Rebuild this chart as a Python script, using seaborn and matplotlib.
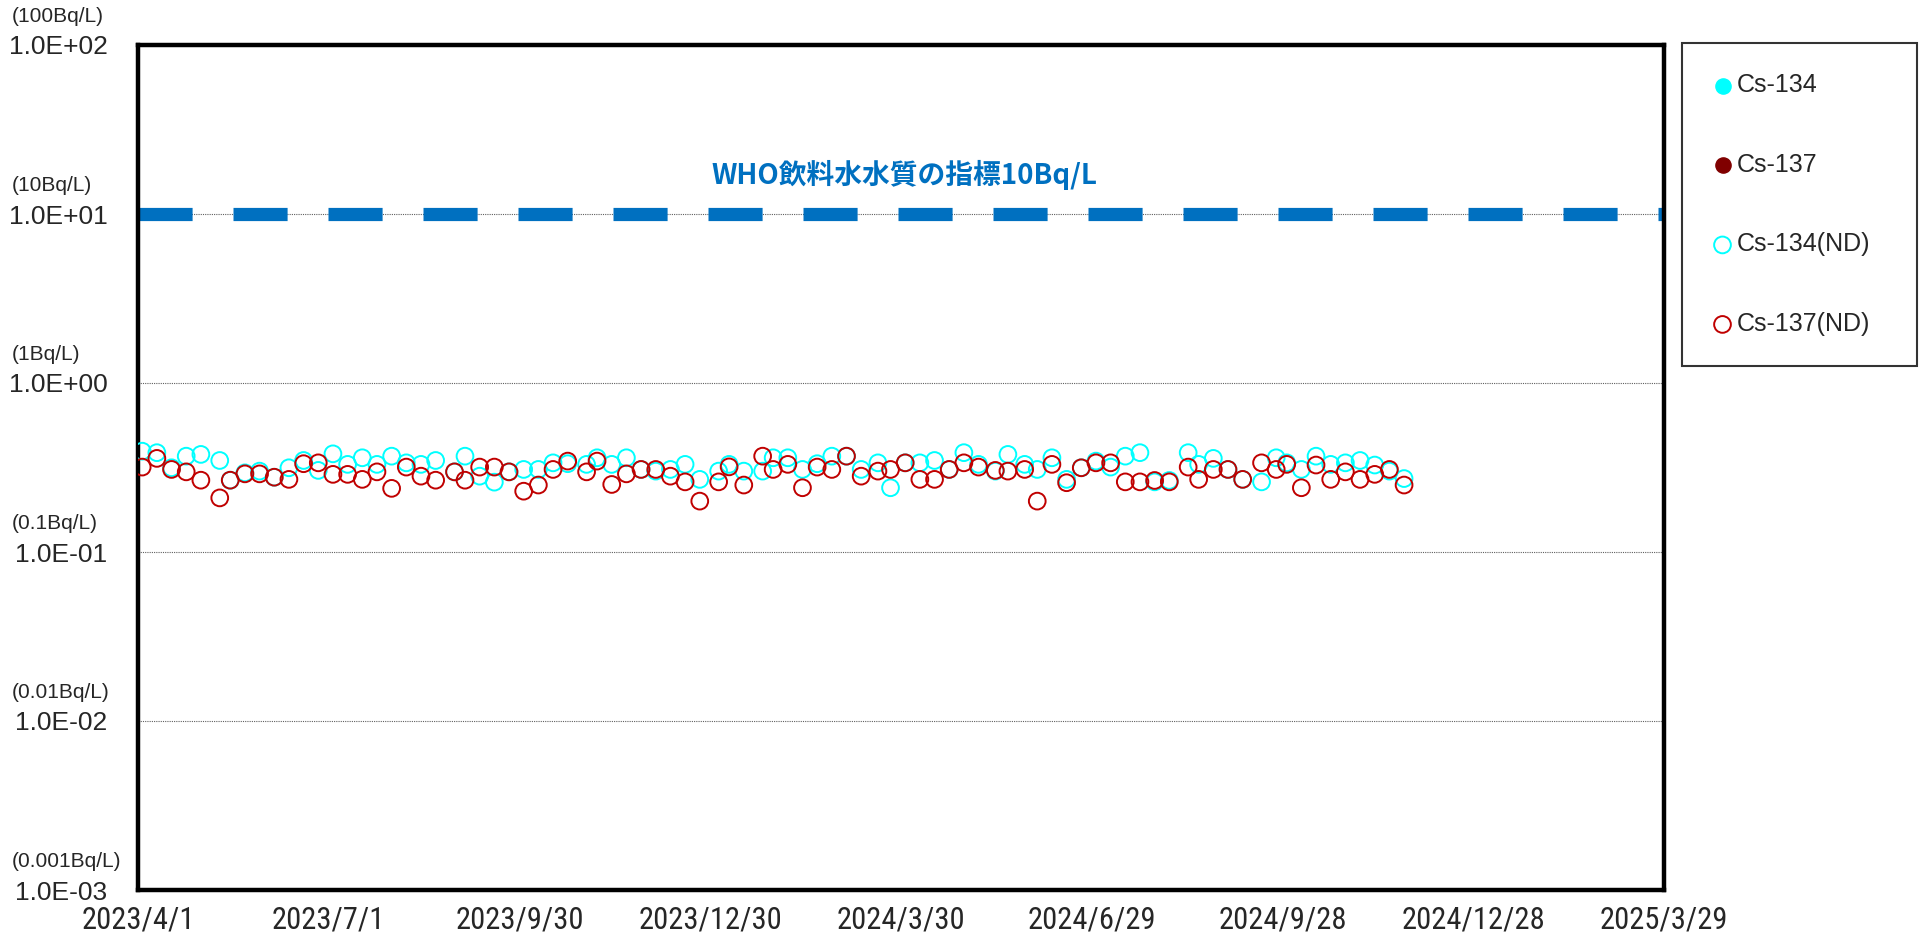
import pandas as pd
import matplotlib
matplotlib.use('Agg')
import matplotlib.pyplot as plt
import matplotlib.dates as mdates
import matplotlib.transforms as mtransforms
from matplotlib.ticker import FixedLocator, FuncFormatter, NullLocator
import seaborn as sns

# sampling dates (weekly)
dates = [
    '2023-04-03', '2023-04-10', '2023-04-17', '2023-04-24', '2023-05-01', '2023-05-10',
    '2023-05-15', '2023-05-22', '2023-05-29', '2023-06-05', '2023-06-12', '2023-06-19',
    '2023-06-26', '2023-07-03', '2023-07-10', '2023-07-17', '2023-07-24', '2023-07-31',
    '2023-08-07', '2023-08-14', '2023-08-21', '2023-08-30', '2023-09-04', '2023-09-11',
    '2023-09-18', '2023-09-25', '2023-10-02', '2023-10-09', '2023-10-16', '2023-10-23',
    '2023-11-01', '2023-11-06', '2023-11-13', '2023-11-20', '2023-11-27', '2023-12-04',
    '2023-12-11', '2023-12-18', '2023-12-25', '2024-01-03', '2024-01-08', '2024-01-15',
    '2024-01-24', '2024-01-29', '2024-02-05', '2024-02-12', '2024-02-19', '2024-02-26',
    '2024-03-04', '2024-03-11', '2024-03-19', '2024-03-25', '2024-04-01', '2024-04-08',
    '2024-04-15', '2024-04-22', '2024-04-29', '2024-05-06', '2024-05-14', '2024-05-20',
    '2024-05-28', '2024-06-03', '2024-06-10', '2024-06-17', '2024-06-24', '2024-07-01',
    '2024-07-08', '2024-07-15', '2024-07-22', '2024-07-29', '2024-08-05', '2024-08-14',
    '2024-08-19', '2024-08-26', '2024-09-02', '2024-09-09', '2024-09-18', '2024-09-25',
    '2024-09-30', '2024-10-07', '2024-10-14', '2024-10-21', '2024-10-28', '2024-11-04',
    '2024-11-11', '2024-11-18', '2024-11-25',
]

# detection limits (Bq/L), not detected
cs134_nd = [
    0.395, 0.387, 0.315, 0.369, 0.378, 0.348, 0.266, 0.294, 0.301, 0.277, 0.315, 0.348,
    0.304, 0.381, 0.330, 0.361, 0.330, 0.369, 0.337, 0.330, 0.348, 0.298, 0.369, 0.281,
    0.259, 0.298, 0.308, 0.308, 0.337, 0.333, 0.330, 0.361, 0.330, 0.361, 0.308, 0.301,
    0.308, 0.330, 0.269, 0.301, 0.330, 0.301, 0.301, 0.361, 0.361, 0.308, 0.333, 0.369,
    0.369, 0.308, 0.337, 0.240, 0.337, 0.337, 0.348, 0.308, 0.387, 0.330, 0.301, 0.378,
    0.330, 0.308, 0.361, 0.269, 0.315, 0.345, 0.318, 0.369, 0.387, 0.260, 0.265, 0.387,
    0.330, 0.358, 0.308, 0.269, 0.260, 0.361, 0.337, 0.308, 0.369, 0.330, 0.337, 0.348,
    0.327, 0.301, 0.272,
]
cs137_nd = [
    0.318, 0.358, 0.308, 0.298, 0.266, 0.209, 0.266, 0.290, 0.290, 0.277, 0.269, 0.333,
    0.337, 0.288, 0.288, 0.269, 0.298, 0.238, 0.318, 0.281, 0.266, 0.298, 0.266, 0.318,
    0.318, 0.298, 0.229, 0.249, 0.308, 0.345, 0.298, 0.345, 0.251, 0.290, 0.308, 0.308,
    0.281, 0.260, 0.200, 0.260, 0.319, 0.249, 0.369, 0.308, 0.330, 0.240, 0.318, 0.308,
    0.369, 0.281, 0.301, 0.308, 0.337, 0.269, 0.269, 0.308, 0.337, 0.318, 0.304, 0.301,
    0.308, 0.200, 0.330, 0.257, 0.315, 0.337, 0.337, 0.260, 0.260, 0.265, 0.260, 0.318,
    0.269, 0.308, 0.308, 0.269, 0.337, 0.308, 0.330, 0.240, 0.327, 0.269, 0.298, 0.269,
    0.288, 0.308, 0.249,
]

# detected values: none in this period
cs134_dates, cs134_vals = [], []
cs137_dates, cs137_vals = [], []

who_guideline = 10.0
who_label = 'WHO飲料水水質の指標10Bq/L'

y_ticks = [1e-3, 1e-2, 1e-1, 1e0, 1e1, 1e2]
unit_labels = ['(0.001Bq/L)', '(0.01Bq/L)', '(0.1Bq/L)', '(1Bq/L)', '(10Bq/L)', '(100Bq/L)']

x_start, x_end = '2023-04-01', '2025-03-29'

df = pd.DataFrame({'date': pd.to_datetime(dates), 'cs134': cs134_nd, 'cs137': cs137_nd})

sns.set_style('white')
plt.rcParams['font.family'] = ['Liberation Sans', 'DejaVu Sans']

fig = plt.figure(figsize=(19.19, 9.38), dpi=100)
ax = fig.add_axes([138 / 1919, 1 - 890 / 938, (1664 - 138) / 1919, (890 - 45) / 938])

cyan = '#00FFFF'
red = '#C00000'
maroon = '#800000'

ax.scatter(pd.to_datetime(cs134_dates), cs134_vals, s=120, color=cyan, label='Cs-134')
ax.scatter(pd.to_datetime(cs137_dates), cs137_vals, s=120, color=maroon, label='Cs-137')
sns.scatterplot(data=df, x='date', y='cs134', ax=ax, s=145, marker='o',
                facecolors='none', edgecolor=cyan, linewidth=1.4, label='Cs-134(ND)', zorder=3)
sns.scatterplot(data=df, x='date', y='cs137', ax=ax, s=145, marker='o',
                facecolors='none', edgecolor=red, linewidth=1.4, label='Cs-137(ND)', zorder=4)

ax.set_yscale('log')
ax.set_ylim(1e-3, 1e2)
ax.yaxis.set_major_locator(FixedLocator(y_ticks))
ax.yaxis.set_minor_locator(NullLocator())
ax.yaxis.set_major_formatter(FuncFormatter(lambda v, p: '%.1E' % v))
ax.grid(axis='y', which='major', color='#606060', linestyle=(0, (1, 1)), linewidth=0.8)

# WHO guideline line
ax.axhline(who_guideline, color='#0070C0', linewidth=9.5, linestyle=(0, (4.1, 3.1)),
           dash_capstyle='butt', zorder=2)
ax.text(0.502, 0.846, who_label, transform=ax.transAxes, ha='center', va='center',
        color='#0070C0', fontsize=20, fontweight='bold',
        family=['Noto Sans CJK JP', 'DejaVu Sans'])

x0, x1 = pd.Timestamp(x_start), pd.Timestamp(x_end)
ax.set_xlim(x0, x1)
ax.set_xticks(pd.date_range(x0, x1, freq='91D'))
ax.xaxis.set_major_formatter(FuncFormatter(
    lambda v, p: '{d.year}/{d.month}/{d.day}'.format(d=mdates.num2date(v))))
ax.tick_params(axis='x', direction='in', length=8, width=0.8, pad=11, labelsize=22)
ax.tick_params(axis='y', length=0, pad=22, labelsize=19)
for lab in ax.get_xticklabels():
    lab.set_family(['Liberation Sans Narrow', 'Roboto Condensed', 'DejaVu Sans'])
    lab.set_fontstretch('condensed')
ax.set_xlabel('')
ax.set_ylabel('')

for side in ax.spines.values():
    side.set_linewidth(3.2)
    side.set_color('black')

# unit labels above each tick label
trans = mtransforms.blended_transform_factory(fig.transFigure, ax.transData)
for v, u in zip(y_ticks, unit_labels):
    ax.text(12 / 1919, v * 1.47, u, transform=trans, ha='left', va='center',
            fontsize=15, clip_on=False)

handles, labels = ax.get_legend_handles_labels()
if ax.get_legend() is not None:
    ax.get_legend().remove()
leg = fig.legend(handles, labels, loc='upper left',
                 bbox_to_anchor=(1682 / 1919, 1 - 43 / 938, (1917 - 1682) / 1919, 0.0),
                 mode='expand', fontsize=18, frameon=True, fancybox=False, edgecolor='black',
                 borderpad=1.22, labelspacing=2.22, handlelength=0.8, handletextpad=0.15,
                 borderaxespad=0)
leg.get_frame().set_linewidth(1.5)

fig.savefig('out.png', dpi=100)
